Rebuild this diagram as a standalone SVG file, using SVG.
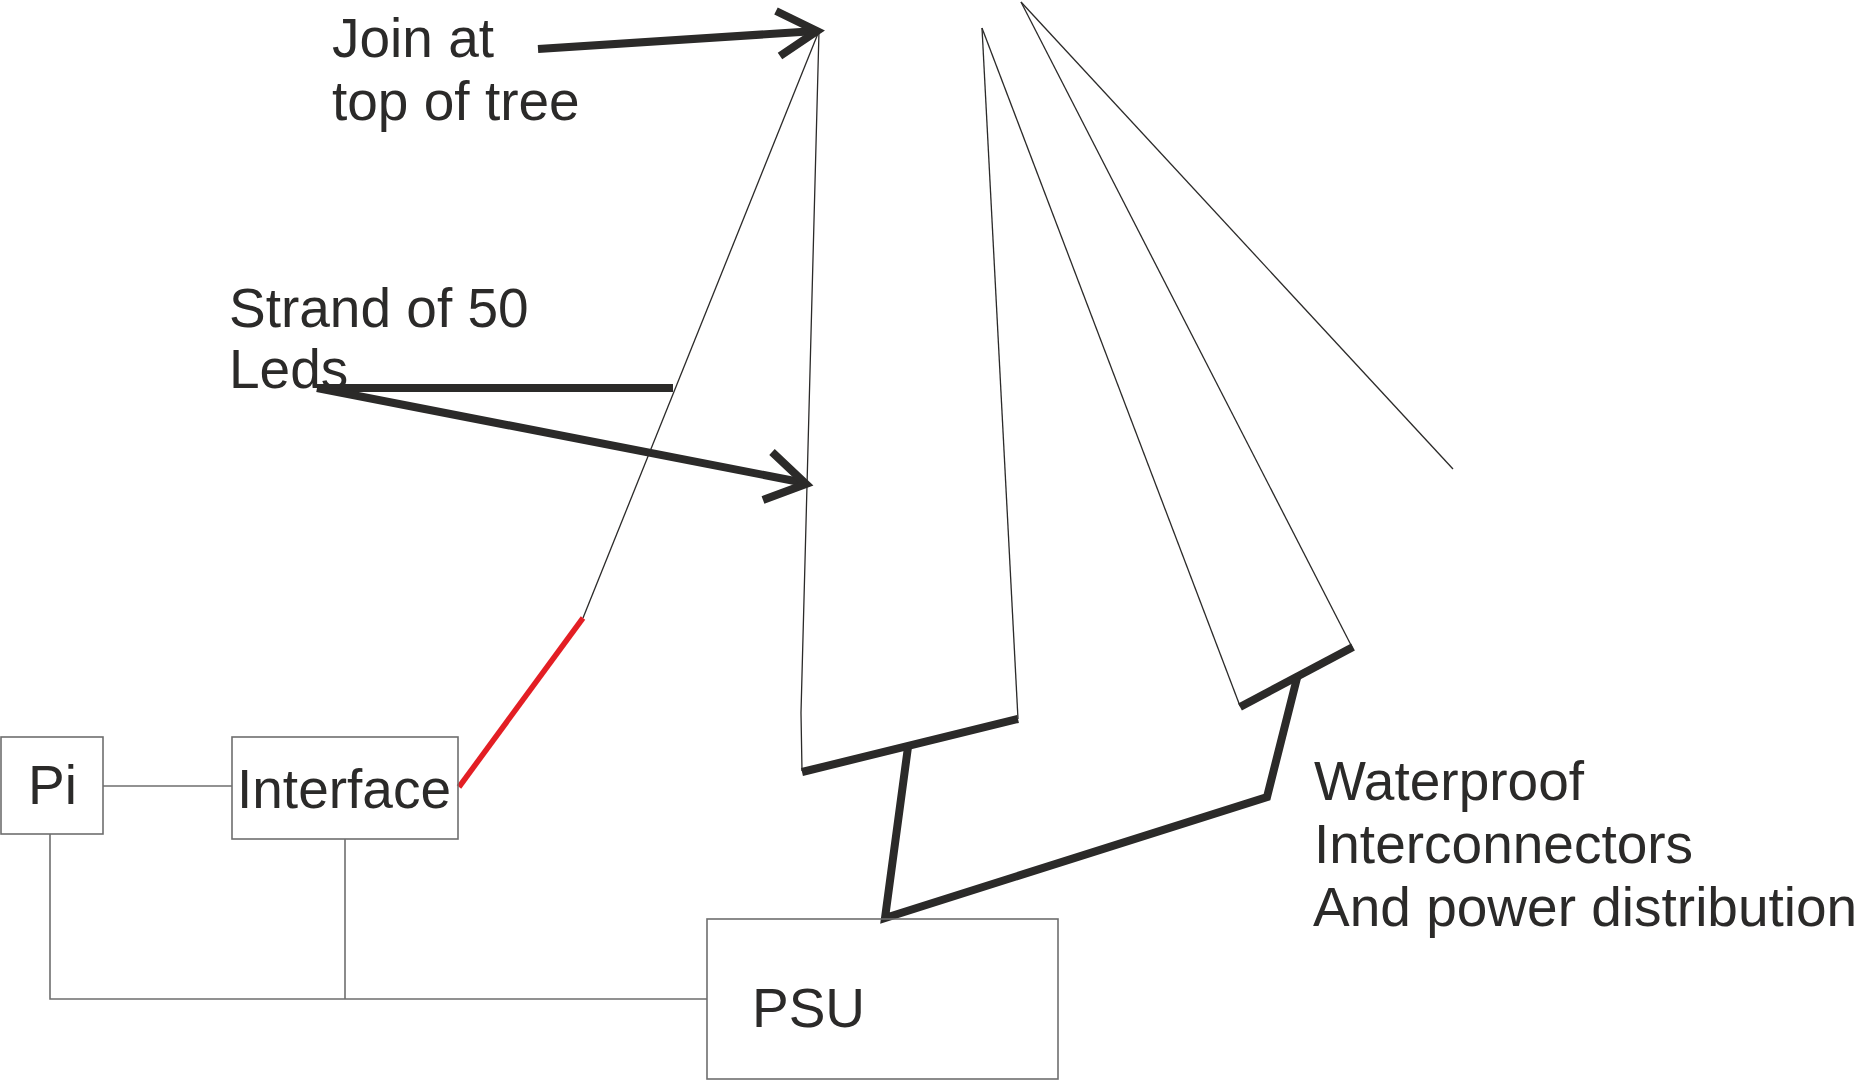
<svg xmlns="http://www.w3.org/2000/svg" width="1854" height="1080" viewBox="0 0 1854 1080">
  <style>
    .bg { fill: #ffffff; }
    .box { fill: none; stroke: #6e6e6e; stroke-width: 1.6; }
    .wire { fill: none; stroke: #6e6e6e; stroke-width: 1.6; }
    .strand { fill: none; stroke: #2b2a29; stroke-width: 1.3; }
    .thick { fill: none; stroke: #2b2a29; stroke-width: 8; stroke-linejoin: miter; stroke-linecap: butt; }
    .red { fill: none; stroke: #e31e24; stroke-width: 5.5; }
    .lbl { font-family: "Liberation Sans", Arial, sans-serif; font-size: 55px; fill: #2b2a29; }
  </style>
  <rect class="bg" x="0" y="0" width="1854" height="1080"/>

  <g id="connectors">
    <!-- LED strands -->
    <line class="strand" x1="583" y1="618" x2="819" y2="31"/>
    <polyline class="strand" points="819,31 801,713 802,771"/>
    <line class="strand" x1="982" y1="28" x2="1018" y2="719"/>
    <line class="strand" x1="982" y1="28" x2="1240" y2="706"/>
    <line class="strand" x1="1021" y1="2" x2="1352" y2="647"/>
    <line class="strand" x1="1021" y1="2" x2="1453" y2="469"/>
    <!-- Red lead from interface -->
    <line class="red" x1="459" y1="787" x2="583" y2="618"/>
    <!-- Waterproof interconnectors / power distribution -->
    <line class="thick" x1="802" y1="772" x2="1018" y2="719"/>
    <line class="thick" x1="1240" y1="707" x2="1353" y2="647"/>
    <polyline class="thick" points="908,747 885,918 1267,797 1297,678"/>
    <!-- Control wiring -->
    <line class="wire" x1="103" y1="786" x2="232" y2="786"/>
    <polyline class="wire" points="50,834 50,999 707,999"/>
    <line class="wire" x1="345" y1="839" x2="345" y2="999"/>
    <!-- Annotation arrows -->
    <line class="thick" x1="538" y1="49" x2="816" y2="31"/>
    <polyline class="thick" points="776,11 817,31 780,56"/>
    <line class="thick" x1="317" y1="388" x2="673" y2="388"/>
    <line class="thick" x1="317" y1="388" x2="805" y2="483"/>
    <polyline class="thick" points="772,452 806,484 763,500"/>
  </g>

  <g id="node-pi">
    <rect class="box" x="1" y="737" width="102" height="97"/>
    <text class="lbl" x="28" y="804" font-size="56">Pi</text>
  </g>
  <g id="node-interface">
    <rect class="box" x="232" y="737" width="226" height="102"/>
    <text class="lbl" x="237" y="808" font-size="55">Interface</text>
  </g>
  <g id="node-psu">
    <rect class="box" x="707" y="919" width="351" height="160"/>
    <text class="lbl" x="752" y="1027">PSU</text>
  </g>

  <g id="label-join">
    <text class="lbl" x="332" y="57">Join at</text>
    <text class="lbl" x="332" y="120">top of tree</text>
  </g>
  <g id="label-strand">
    <text class="lbl" x="229" y="327">Strand of 50</text>
    <text class="lbl" x="229" y="388">Leds</text>
  </g>
  <g id="label-waterproof">
    <text class="lbl" x="1314" y="800">Waterproof</text>
    <text class="lbl" x="1314" y="863">Interconnectors</text>
    <text class="lbl" x="1313" y="926" font-size="54">And power distribution</text>
  </g>
</svg>
